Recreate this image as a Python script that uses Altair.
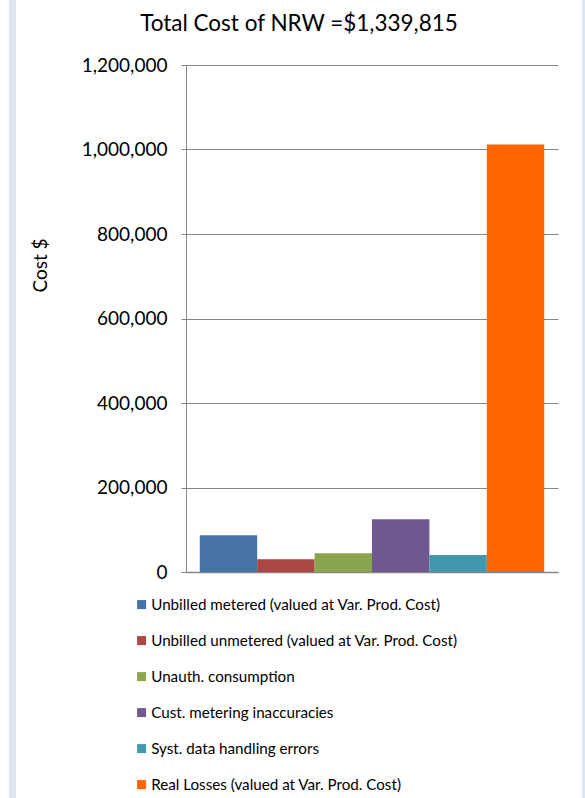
import altair as alt
import pandas as pd

categories = [
    "Unbilled metered (valued at Var. Prod. Cost)",
    "Unbilled unmetered (valued at Var. Prod. Cost)",
    "Unauth. consumption",
    "Cust. metering inaccuracies",
    "Syst. data handling errors",
    "Real Losses (valued at Var. Prod. Cost)",
]
costs = [87000, 30000, 44500, 125000, 40000, 1012000]
colors = ["#4572A7", "#AA4643", "#89A54E", "#71588F", "#4198AF", "#FF6600"]
y_ticks = [0, 200000, 400000, 600000, 800000, 1000000, 1200000]
title_text = "Total Cost of NRW =$1,339,815"
y_title = "Cost $"

df = pd.DataFrame({"category": categories, "cost": costs})

FONT = "Lato"
GRAY = "#868686"

bars = alt.Chart(df).mark_bar().encode(
    x=alt.X(
        "category:N",
        sort=categories,
        scale=alt.Scale(paddingInner=0, paddingOuter=0.24),
        axis=alt.Axis(labels=False, ticks=False, title=None, grid=False,
                      domainColor=GRAY, domainWidth=1.5),
    ),
    y=alt.Y(
        "cost:Q",
        scale=alt.Scale(domain=[0, 1200000], nice=False),
        axis=alt.Axis(
            values=y_ticks, format=",.0f", labelFont=FONT, labelFontSize=19,
            labelColor="black", labelPadding=14, tickColor=GRAY, tickSize=5,
            domainColor=GRAY, gridColor=GRAY, gridWidth=1,
            title=y_title, titleFont=FONT, titleFontSize=19,
            titleFontWeight="normal", titleColor="black", titleAngle=270,
            titleX=-146, titleY=200, titleAlign="center", titleBaseline="middle",
        ),
    ),
    color=alt.Color(
        "category:N",
        sort=categories,
        scale=alt.Scale(domain=categories, range=colors),
        legend=alt.Legend(
            title=None, orient="none", legendX=-52, legendY=532, padding=0,
            symbolType="square", symbolSize=81, symbolStrokeWidth=0,
            labelFont=FONT, labelFontSize=15.2, labelColor="black",
            labelLimit=500, rowPadding=20, labelOffset=2,
        ),
    ),
)

frame = alt.Chart(alt.Data(values=[{}])).mark_rect(color="#dce6f1").encode(
    x=alt.value(-177), x2=alt.value(-170), y=alt.value(0), y2=alt.value(733)
)
frame_top = alt.Chart(alt.Data(values=[{}])).mark_rect(color="#dce6f1").encode(
    x=alt.value(-177), x2=alt.value(-170), y=alt.value(-65), y2=alt.value(0)
)
frame_r = alt.Chart(alt.Data(values=[{}])).mark_rect(color="#dce6f1").encode(
    x=alt.value(396), x2=alt.value(400), y=alt.value(-65), y2=alt.value(733)
)

chart = alt.layer(frame, frame_top, frame_r, bars).properties(
    width=372,
    height=507,
    padding={"left": 186, "top": 65, "right": 27, "bottom": 226},
    autosize="none",
    background="white",
    title=alt.TitleParams(
        title_text, font=FONT, fontSize=22.5, fontWeight="normal", color="black",
        anchor="middle", dx=-73, frame="group", offset=-35,
    ),
).configure_view(strokeWidth=0)

chart.save("out.html", embed_options={"renderer": "svg", "actions": False})
